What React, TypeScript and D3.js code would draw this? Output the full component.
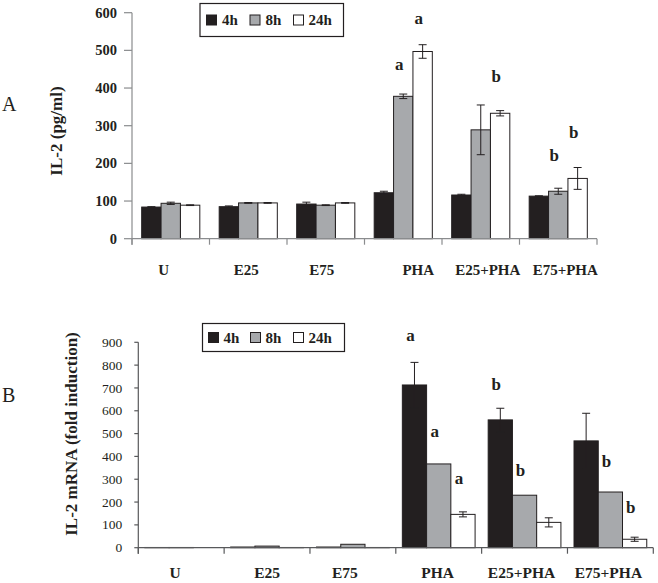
import React from 'react';
import * as d3 from 'd3';

const categories = ['U', 'E25', 'E75', 'PHA', 'E25+PHA', 'E75+PHA'];
const series = ['4h', '8h', '24h'];
const seriesColors = ['#231f20', '#a7a9ac', '#ffffff'];

// Panel A: IL-2 (pg/ml)
const a4h = [84, 85, 92, 122, 116, 113];
const a8h = [94, 95, 89, 378, 289, 126];
const a24h = [89, 95, 95, 497, 333, 160];
const a4hErr = [1, 2, 5, 4, 2, 1];
const a8hErr = [3, 1, 1, 6, 66, 8];
const a24hErr = [1, 1, 1, 18, 7, 29];
const aTicks = [0, 100, 200, 300, 400, 500, 600];
const aLetterCats = ['PHA', 'PHA', 'E25+PHA', 'E75+PHA', 'E75+PHA'];
const aLetterSeries = ['8h', '24h', '24h', '8h', '24h'];
const aLetterText = ['a', 'a', 'b', 'b', 'b'];
const aLetterLevel = [448, 570, 416, 206, 267];
const aLabelShift = [-7, -2, -4, 15, 7, 7];

// Panel B: IL-2 mRNA (fold induction)
const b4h = [1, 3, 3, 713, 560, 468];
const b8h = [1, 7, 15, 367, 230, 244];
const b24h = [0, 1, 1, 146, 111, 37];
const b4hErr = [0, 0, 0, 99, 51, 121];
const b8hErr = [0, 0, 0, 0, 0, 0];
const b24hErr = [0, 0, 0, 11, 20, 9];
const bTicks = [0, 100, 200, 300, 400, 500, 600, 700, 800, 900];
const bLetterCats = ['PHA', 'PHA', 'PHA', 'E25+PHA', 'E25+PHA', 'E75+PHA', 'E75+PHA'];
const bLetterSeries = ['4h', '8h', '24h', '4h', '8h', '8h', '24h'];
const bLetterText = ['a', 'a', 'a', 'b', 'b', 'b', 'b'];
const bLetterLevel = [906, 485, 277, 691, 314, 354, 150];
const bLabelShift = [-6, 0, -8, -1, -3, -2];

const FONT = '"Liberation Serif", "Times New Roman", serif';

type PanelProps = {
  values: number[][];
  errors: number[][];
  ticks: number[];
  yMax: number;
  xRange: [number, number];
  yRange: [number, number];
  innerPad: number;
  axisColor: string;
  yTickSize: number;
  xTickSize: number;
  tickFont: number;
  tickWeight: string;
  tickGap: number;
  catFont: number;
  catBaseline: number;
  labelShift: number[];
  letterCats: string[];
  letterSeries: string[];
  letterText: string[];
  letterLevel: number[];
  legend: { x: number; y: number; w: number; h: number; sw: number[]; tx: number[] };
  yLabel: string;
  yLabelX: number;
  yLabelY: number;
  panel: string;
  panelY: number;
};

function Panel(p: PanelProps) {
  const x = d3.scaleBand<string>().domain(categories).range(p.xRange).paddingInner(0).paddingOuter(0);
  const xs = d3.scaleBand<string>().domain(series).range([0, x.bandwidth()]).paddingInner(0).paddingOuter(p.innerPad);
  const y = d3.scaleLinear().domain([0, p.yMax]).range(p.yRange);
  const y0 = y(0);
  const boundaries = [...categories.map((c) => x(c) as number), p.xRange[1]];
  const capW = 4;
  return (
    <g>
      {/* bars */}
      {series.map((s, si) =>
        categories.map((c, ci) => {
          const v = p.values[si][ci];
          const bx = (x(c) as number) + (xs(s) as number);
          const h = y0 - y(v);
          return (
            <rect
              key={`b-${s}-${c}`}
              x={bx}
              y={y(v)}
              width={xs.bandwidth()}
              height={Math.max(h, 0)}
              fill={seriesColors[si]}
              stroke="#231f20"
              strokeWidth={1}
            />
          );
        })
      )}
      {/* error bars */}
      {series.map((s, si) =>
        categories.map((c, ci) => {
          const v = p.values[si][ci];
          const e = p.errors[si][ci];
          if (!e) return null;
          const cx = (x(c) as number) + (xs(s) as number) + xs.bandwidth() / 2;
          return (
            <g key={`e-${s}-${c}`} stroke="#231f20" strokeWidth={1}>
              <line x1={cx} x2={cx} y1={y(v - e)} y2={y(v + e)} />
              <line x1={cx - capW} x2={cx + capW} y1={y(v + e)} y2={y(v + e)} />
              <line x1={cx - capW} x2={cx + capW} y1={y(v - e)} y2={y(v - e)} />
            </g>
          );
        })
      )}
      {/* y axis */}
      <line x1={p.xRange[0]} x2={p.xRange[0]} y1={y(p.yMax)} y2={y0 + p.xTickSize} stroke={p.axisColor} strokeWidth={1.2} />
      {p.ticks.map((t) => (
        <g key={`yt-${t}`}>
          <line x1={p.xRange[0] - p.yTickSize} x2={p.xRange[0]} y1={y(t)} y2={y(t)} stroke={p.axisColor} strokeWidth={1.2} />
          <text
            x={p.xRange[0] - p.yTickSize - p.tickGap}
            y={y(t)}
            dy="0.34em"
            textAnchor="end"
            fontFamily={FONT}
            fontSize={p.tickFont}
            fontWeight={p.tickWeight}
            fill="#231f20"
          >
            {t}
          </text>
        </g>
      ))}
      {/* x axis */}
      <line x1={p.xRange[0]} x2={p.xRange[1]} y1={y0} y2={y0} stroke={p.axisColor} strokeWidth={1.2} />
      {boundaries.map((bx, i) => (
        <line key={`xt-${i}`} x1={bx} x2={bx} y1={y0} y2={y0 + p.xTickSize} stroke={p.axisColor} strokeWidth={1.2} />
      ))}
      {categories.map((c, ci) => (
        <text
          key={`xl-${c}`}
          x={(x(c) as number) + x.bandwidth() / 2 + p.labelShift[ci]}
          y={p.catBaseline}
          textAnchor="middle"
          fontFamily={FONT}
          fontSize={p.catFont}
          fontWeight="bold"
          fill="#231f20"
        >
          {c}
        </text>
      ))}
      {/* significance letters */}
      {p.letterText.map((t, i) => (
        <text
          key={`lt-${i}`}
          x={(x(p.letterCats[i]) as number) + (xs(p.letterSeries[i]) as number) + xs.bandwidth() / 2 - 4}
          y={y(p.letterLevel[i])}
          textAnchor="middle"
          fontFamily={FONT}
          fontSize={17}
          fontWeight="bold"
          fill="#231f20"
        >
          {t}
        </text>
      ))}
      {/* legend */}
      <rect x={p.legend.x} y={p.legend.y} width={p.legend.w} height={p.legend.h} fill="#fff" stroke="#231f20" strokeWidth={1.2} />
      {series.map((s, si) => (
        <g key={`lg-${s}`}>
          <rect
            x={p.legend.sw[si]}
            y={p.legend.y + p.legend.h / 2 - 5}
            width={10}
            height={10}
            fill={seriesColors[si]}
            stroke="#231f20"
            strokeWidth={1}
          />
          <text
            x={p.legend.tx[si]}
            y={p.legend.y + p.legend.h / 2 + 5}
            fontFamily={FONT}
            fontSize={15}
            fontWeight="bold"
            fill="#231f20"
          >
            {s}
          </text>
        </g>
      ))}
      {/* y label */}
      <text
        transform={`translate(${p.yLabelX},${p.yLabelY}) rotate(-90)`}
        textAnchor="middle"
        fontFamily={FONT}
        fontSize={17}
        fontWeight="bold"
        fill="#231f20"
      >
        {p.yLabel}
      </text>
      <text x={2} y={p.panelY} fontFamily={FONT} fontSize={20} fill="#231f20">
        {p.panel}
      </text>
    </g>
  );
}

export default function App() {
  return (
    <svg
      width={658}
      height={583}
      viewBox="0 0 658 583"
      style={{ position: 'absolute', left: 0, top: 0, background: '#fff' }}
    >
      <rect width={658} height={583} fill="#fff" />
      <Panel
        values={[a4h, a8h, a24h]}
        errors={[a4hErr, a8hErr, a24hErr]}
        ticks={aTicks}
        yMax={600}
        xRange={[132, 597]}
        yRange={[238.7, 12.7]}
        innerPad={0.5}
        axisColor="#8a8c8e"
        yTickSize={8}
        xTickSize={6}
        tickFont={14.5}
        tickWeight="bold"
        tickGap={7}
        catFont={15}
        catBaseline={275}
        labelShift={aLabelShift}
        letterCats={aLetterCats}
        letterSeries={aLetterSeries}
        letterText={aLetterText}
        letterLevel={aLetterLevel}
        legend={{ x: 200, y: 3.5, w: 143.5, h: 33, sw: [206.5, 250, 293.5], tx: [222, 265.5, 308.5] }}
        yLabel="IL-2 (pg/ml)"
        yLabelX={62}
        yLabelY={131}
        panel="A"
        panelY={111}
      />
      <Panel
        values={[b4h, b8h, b24h]}
        errors={[b4hErr, b8hErr, b24hErr]}
        ticks={bTicks}
        yMax={900}
        xRange={[138.3, 653.3]}
        yRange={[547.7, 342.3]}
        innerPad={0.27}
        axisColor="#58595b"
        yTickSize={4}
        xTickSize={6}
        tickFont={13.5}
        tickWeight="normal"
        tickGap={12}
        catFont={15.5}
        catBaseline={578}
        labelShift={bLabelShift}
        letterCats={bLetterCats}
        letterSeries={bLetterSeries}
        letterText={bLetterText}
        letterLevel={bLetterLevel}
        legend={{ x: 202.5, y: 323.5, w: 142, h: 28, sw: [208.5, 250.5, 293.5], tx: [223.5, 265.5, 308.5] }}
        yLabel="IL-2 mRNA (fold induction)"
        yLabelX={77}
        yLabelY={434}
        panel="B"
        panelY={402}
      />
    </svg>
  );
}
